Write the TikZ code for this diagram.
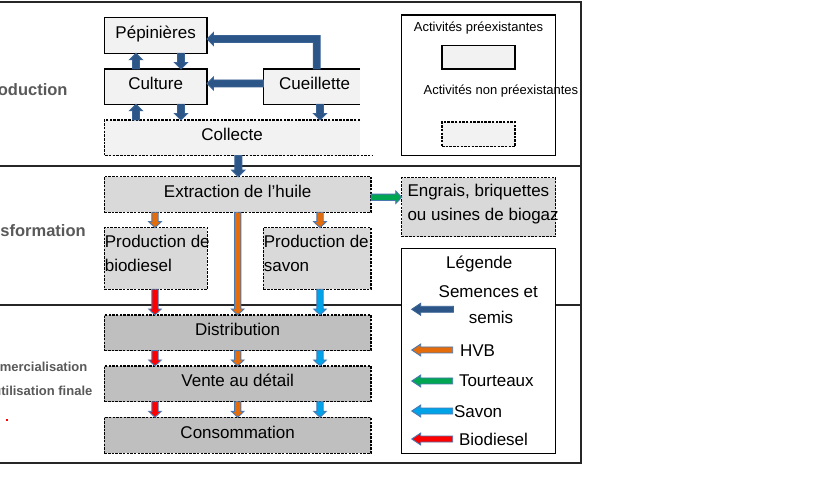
\documentclass[tikz,border=0pt]{standalone}
\usepackage{fontspec}
\setmainfont{Liberation Sans}
\usetikzlibrary{calc}
\definecolor{semfill}{HTML}{2C5687}
\definecolor{semline}{HTML}{3A6396}
\definecolor{aline}{HTML}{4A78B0}
\definecolor{hvb}{HTML}{E46C0A}
\definecolor{tour}{HTML}{00A651}
\definecolor{savon}{HTML}{00A2E8}
\definecolor{bio}{HTML}{FF0000}
\definecolor{gA}{HTML}{F2F2F2}
\definecolor{gB}{HTML}{D9D9D9}
\definecolor{gC}{HTML}{BFBFBF}
\definecolor{lab}{HTML}{595959}
\definecolor{frm}{HTML}{262626}
\def\aSW{3.2pt}\def\aHW{6.3pt}\def\aHL{6pt}
\begin{document}
\begin{tikzpicture}[x=1pt,y=-1pt,
  every node/.style={inner sep=0pt, outer sep=0pt},
  bfont/.style={font=\fontsize{17}{24.4}\selectfont},
  sfont/.style={font=\fontsize{13}{16}\selectfont},
  labfont/.style={font=\fontsize{16.5}{20}\selectfont\bfseries, text=lab},
  lab2font/.style={font=\fontsize{13}{16}\selectfont\bfseries, text=lab},
  box/.style={bfont, anchor=north west, draw=black, line width=1.3pt, text height=12pt, text depth=6pt},
  dashpat/.style={line width=1.1pt, dash pattern=on 2.5pt off 1.2pt},
  dbox/.style={box, dashpat},
  frame/.style={draw=frm, line width=1.7pt},
  blk/.style={draw=aline, line width=0.9pt, fill=#1, line join=miter,
    to path={let \p1=(\tikztostart), \p2=(\tikztotarget),
      \n1={atan2((\y2)-(\y1),(\x2)-(\x1))}, \n2={\n1+90}, \n3={\n1-90}, \n4={\n1+180} in
      ($(\p1)+(\n2:\aSW)$) -- ($(\p2)+(\n4:\aHL)+(\n2:\aSW)$) -- ($(\p2)+(\n4:\aHL)+(\n2:\aHW)$)
      -- (\p2) -- ($(\p2)+(\n4:\aHL)+(\n3:\aHW)$) -- ($(\p2)+(\n4:\aHL)+(\n3:\aSW)$)
      -- ($(\p1)+(\n3:\aSW)$) -- cycle}},
  semw/.code={\def\aSW{3.5pt}\def\aHW{6.5pt}\def\aHL{6.5pt}},
  legw/.code={\def\aSW{3pt}\def\aHW{6pt}\def\aHL{9pt}},
]
\useasboundingbox (0,0) rectangle (817,478);
\fill[white] (0,0) rectangle (817,478);

% frame
\draw[frame] (-10,2.3) -- (581,2.3) -- (581,463.3) -- (-10,463.3);
\draw[frame] (-10,166) -- (581,166);
\draw[frame] (-10,304.7) -- (581,304.7);

% section labels
\node[labfont, anchor=base east] (lprod) at (67.5,96) {Production};
\node[labfont, anchor=base east] (ltrans) at (85.7,237) {Transformation};
\node[lab2font, anchor=base west] (lcom1) at (-29,371.4) {Commercialisation};
\node[lab2font, anchor=base west] (lcom2) at (-29,395.7) {et l'utilisation finale};
\fill[red] (6,419) rectangle (8.2,421.4);

% production
\node[box, fill=gA, minimum width=102.7pt, minimum height=36pt] (pep) at (104.3,17.3) {Pépinières};
\node[box, fill=gA, minimum width=102.7pt, minimum height=35.3pt] (cul) at (104.3,69) {Culture};
\node[box, draw=none, fill=gA, minimum width=96.7pt, minimum height=35.3pt] (cue) at (263.3,69) {\hspace*{6pt}Cueillette};
\draw[line width=1.3pt] (cue.north east) -- (cue.north west) -- (cue.south west) -- (cue.south east);
\node[box, draw=none, fill=gA, minimum width=255.7pt, minimum height=35.7pt] (coll) at (104.3,120) {Collecte};
\draw[dashpat] (coll.north east) -- (coll.north west) -- (coll.south west) -- ([xshift=11.7pt]coll.south east);

% transformation
\node[dbox, fill=gB, minimum width=266.7pt, minimum height=35.6pt] (ext) at (104.3,176.7) {Extraction de l'huile};
\node[dbox, fill=gB, minimum width=103pt, minimum height=61.6pt] (bd) at (104.3,227.7) {};
\node[dbox, fill=gB, minimum width=107.7pt, minimum height=61.6pt] (sv) at (263.3,227.7) {};
\node[dbox, fill=gB, minimum width=154pt, minimum height=59pt] (eng) at (401.7,177.7) {};
\node[bfont, anchor=base west, align=left] (bdt) at (104.8,272) {Production de\\biodiesel};
\node[bfont, anchor=base west, align=left] (svt) at (263.8,272) {Production de\\savon};
\node[bfont, anchor=base west, align=left] (engt) at (407.5,221) {Engrais, briquettes\\ou usines de biogaz};

% commercialisation
\node[dbox, fill=gC, minimum width=266.7pt, minimum height=35.7pt] (dist) at (104.3,315) {Distribution};
\node[dbox, fill=gC, minimum width=266.7pt, minimum height=35.7pt] (vente) at (104.3,366) {Vente au détail};
\node[dbox, fill=gC, minimum width=266.7pt, minimum height=36pt] (cons) at (104.3,417.3) {Consommation};

% legend top
\node[anchor=north west, draw=black, line width=1.3pt, fill=white, minimum width=154pt, minimum height=140.7pt] (leg1) at (401.7,15) {};
\node[sfont, anchor=base] (lt1) at (478.5,31.4) {Activités préexistantes};
\node[anchor=north west, draw=black, line width=1.3pt, fill=gA, minimum width=73pt, minimum height=23.3pt] (lb1) at (442,45.7) {};
\node[sfont, anchor=base] (lt2) at (500.9,94.6) {Activités non préexistantes};
\node[anchor=north west, dashpat, draw=black, fill=gA, minimum width=73pt, minimum height=24.7pt] (lb2) at (442,122) {};

% legend bottom
\node[anchor=north west, draw=black, line width=1.3pt, fill=white, minimum width=154pt, minimum height=205pt] (leg2) at (401.7,248.3) {};
\node[bfont, anchor=base] (lg) at (479.3,268.5) {Légende};
\node[bfont, anchor=base] (lsem1) at (488.3,297.5) {Semences et};
\node[bfont, anchor=base] (lsem2) at (491,323.5) {semis};
\node[bfont, anchor=base west] (lhvb) at (460,356) {HVB};
\node[bfont, anchor=base west] (ltour) at (459,387) {Tourteaux};
\node[bfont, anchor=base west] (lsav) at (454,417.5) {Savon};
\node[bfont, anchor=base west] (lbio) at (459,446) {Biodiesel};
\coordinate (s1) at (453.3,309.3); \coordinate (e1) at (411.7,309.3);
\coordinate (s2) at (452.7,350);   \coordinate (e2) at (411.7,350);
\coordinate (s3) at (452.7,381);   \coordinate (e3) at (411.7,381);
\coordinate (s4) at (452.7,411);   \coordinate (e4) at (411.7,411);
\coordinate (s5) at (452.7,439);   \coordinate (e5) at (411.7,439);
\path[blk=semfill, draw=semline, legw] (s1) to (e1);
\path[blk=hvb, legw] (s2) to (e2);
\path[blk=tour, legw] (s3) to (e3);
\path[blk=savon, legw] (s4) to (e4);
\path[blk=bio, legw] (s5) to (e5);

% production arrows
\path[blk=semfill, draw=semline, semw] ([xshift=31.7pt]cul.north west) to ([xshift=31.7pt]pep.south west);
\path[blk=semfill, draw=semline, semw] ([xshift=76.7pt]pep.south west) to ([xshift=76.7pt]cul.north west);
\path[blk=semfill, draw=semline, semw] ([xshift=31.7pt]coll.north west) to ([xshift=31.7pt]cul.south west);
\path[blk=semfill, draw=semline, semw] ([xshift=76.7pt]cul.south west) to ([xshift=76.7pt]coll.north west);
\path[blk=semfill, draw=semline, semw] ([yshift=-14.5pt]cue.north west) to ([yshift=-14.5pt]cul.north east);
\path[blk=semfill, draw=semline, semw] ([xshift=56.7pt]cue.south west) to ([xshift=215.7pt]coll.north west);
\path[blk=semfill, draw=semline, semw] ([xshift=134pt]coll.south west) to ([xshift=134pt]ext.north west);
\coordinate (b1) at ([xshift=53.4pt]cue.north west);
\coordinate (b2) at ([yshift=-3.7pt]pep.east);
\path[blk=semfill, draw=semline] let \p1=(b1), \p2=(b2) in
  (\x1-3.5pt,\y1) -- (\x1-3.5pt,\y2-3.5pt) -- (\x2+6.5pt,\y2-3.5pt) -- (\x2+6.5pt,\y2-6.5pt)
  -- (\x2,\y2) -- (\x2+6.5pt,\y2+6.5pt) -- (\x2+6.5pt,\y2+3.5pt) -- (\x1+3.5pt,\y2+3.5pt)
  -- (\x1+3.5pt,\y1) -- cycle;

% transformation arrows
\path[blk=hvb] ([xshift=50.7pt]ext.south west) to ([xshift=50.7pt]bd.north west);
\path[blk=hvb] ([xshift=215.7pt]ext.south west) to ([xshift=56.7pt]sv.north west);
\path[blk=hvb] ([xshift=133.4pt]ext.south west) to ([xshift=133.4pt]dist.north west);
\path[blk=tour] ([yshift=-20.6pt]ext.north east) to ([yshift=-19.6pt]eng.north west);
\path[blk=bio] ([xshift=50.7pt]bd.south west) to ([xshift=50.7pt]dist.north west);
\path[blk=savon] ([xshift=56.7pt]sv.south west) to ([xshift=215.7pt]dist.north west);

% commercialisation arrows
\path[blk=bio] ([xshift=50.7pt]dist.south west) to ([xshift=50.7pt]vente.north west);
\path[blk=hvb] ([xshift=133.4pt]dist.south west) to ([xshift=133.4pt]vente.north west);
\path[blk=savon] ([xshift=215.7pt]dist.south west) to ([xshift=215.7pt]vente.north west);
\path[blk=bio] ([xshift=50.7pt]vente.south west) to ([xshift=50.7pt]cons.north west);
\path[blk=hvb] ([xshift=133.4pt]vente.south west) to ([xshift=133.4pt]cons.north west);
\path[blk=savon] ([xshift=215.7pt]vente.south west) to ([xshift=215.7pt]cons.north west);
\end{tikzpicture}
\end{document}
